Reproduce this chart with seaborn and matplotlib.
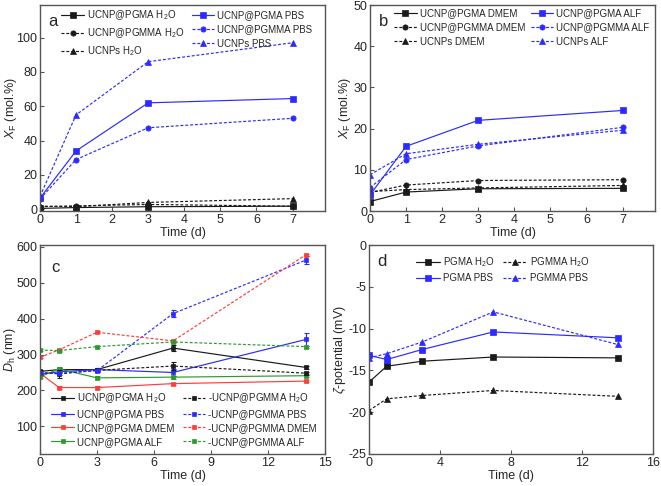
import numpy as np
import pandas as pd
import matplotlib
matplotlib.use("Agg")
import matplotlib.pyplot as plt
import seaborn as sns

# ---------------- data ----------------
days_ab = [0, 1, 3, 7]
a_pgma_h2o = [0.5, 1.0, 1.5, 1.8]
a_pgmma_h2o = [1.5, 2.0, 2.8, 1.8]
a_ucnp_h2o = [1.8, 1.5, 4.0, 6.2]
a_pgma_pbs = [6.5, 34.0, 62.0, 64.5]
a_pgmma_pbs = [6.0, 29.0, 47.5, 53.0]
a_ucnp_pbs = [7.5, 55.0, 86.0, 97.0]

b_pgma_dmem = [2.3, 4.6, 5.4, 5.5]
b_pgmma_dmem = [4.5, 6.3, 7.4, 7.6]
b_ucnp_dmem = [4.7, 5.2, 5.6, 6.2]
b_pgma_alf = [3.9, 15.7, 22.0, 24.4]
b_pgmma_alf = [5.7, 12.5, 15.8, 20.3]
b_ucnp_alf = [8.8, 13.9, 16.2, 19.6]

days_cd = [0, 1, 3, 7, 14]
c_pgma_h2o = [253, 258, 258, 318, 264]
c_pgma_h2o_err = [5, 4, 4, 8, 5]
c_pgmma_h2o = [250, 246, 256, 268, 248]
c_pgmma_h2o_err = [4, 10, 4, 12, 4]
c_pgma_pbs = [245, 252, 258, 250, 342]
c_pgma_pbs_err = [4, 4, 4, 10, 18]
c_pgmma_pbs = [248, 248, 255, 414, 563]
c_pgmma_pbs_err = [4, 4, 5, 10, 12]
c_pgma_dmem = [248, 208, 208, 219, 226]
c_pgma_dmem_err = [3, 3, 3, 3, 3]
c_pgmma_dmem = [292, 313, 362, 338, 578]
c_pgmma_dmem_err = [3, 3, 3, 3, 3]
c_pgma_alf = [238, 260, 235, 237, 241]
c_pgma_alf_err = [4, 5, 4, 4, 4]
c_pgmma_alf = [312, 311, 322, 335, 322]
c_pgmma_alf_err = [3, 3, 3, 3, 3]

d_pgma_h2o = [-16.4, -14.5, -13.9, -13.4, -13.5]
d_pgmma_h2o = [-19.8, -18.4, -18.0, -17.4, -18.1]
d_pgma_pbs = [-13.2, -13.7, -12.5, -10.4, -11.1]
d_pgmma_pbs = [-13.5, -13.0, -11.6, -8.0, -11.9]

# ---------------- style ----------------
sns.set_theme(style="ticks")
plt.rcParams['font.family'] = ['Liberation Sans', 'DejaVu Sans']
plt.rcParams['mathtext.fontset'] = 'custom'
plt.rcParams['mathtext.rm'] = 'Liberation Sans'
plt.rcParams['mathtext.it'] = 'Liberation Sans:italic'
plt.rcParams['mathtext.bf'] = 'Liberation Sans:bold'
plt.rcParams['axes.unicode_minus'] = False

BLACK = "#1a1a1a"
BLUE = "#2b2bff"
RED = "#ff3b3b"
GREEN = "#2e9a2e"
SPINE = "#555555"
DASH = (0, (2.5, 1.6))

TICK_FS = 9
LEG_FS = 7

fig = plt.figure(figsize=(6.61, 4.86), dpi=100)
W, H = 661, 486


def add_ax(l, t, r, b):
    return fig.add_axes([l / W, 1 - b / H, (r - l) / W, (b - t) / H])


ax_a = add_ax(40, 5, 325, 211)
ax_b = add_ax(370, 5, 655, 211)
ax_c = add_ax(40, 245, 325, 454)
ax_d = add_ax(369, 245, 653, 454)


def series(ax, x, y, color, marker, dashed, label, ms=3.8, lw=0.85):
    df = pd.DataFrame({"x": x, "y": y})
    sns.lineplot(data=df, x="x", y="y", ax=ax, color=color, marker=marker,
                 markersize=ms, markeredgecolor=color, markeredgewidth=0.5,
                 linewidth=lw, linestyle=DASH if dashed else "-", label=label,
                 errorbar=None, sort=False)


def style_ax(ax):
    for s in ax.spines.values():
        s.set_color(SPINE)
        s.set_linewidth(1.0)
    ax.tick_params(direction="in", length=3, width=0.8, color=SPINE,
                   labelsize=TICK_FS, pad=2, top=False, right=False)
    ax.set_xlabel("Time (d)", fontsize=TICK_FS, labelpad=1)


H2O = "H$_2$O"

# ---- panel a ----
series(ax_a, days_ab, a_pgma_h2o, BLACK, "s", False, f"UCNP@PGMA {H2O}")
series(ax_a, days_ab, a_pgmma_h2o, BLACK, "o", True, f"UCNP@PGMMA {H2O}")
series(ax_a, days_ab, a_ucnp_h2o, BLACK, "^", True, f"UCNPs {H2O}")
series(ax_a, days_ab, a_pgma_pbs, BLUE, "s", False, "UCNP@PGMA PBS")
series(ax_a, days_ab, a_pgmma_pbs, BLUE, "o", True, "UCNP@PGMMA PBS")
series(ax_a, days_ab, a_ucnp_pbs, BLUE, "^", True, "UCNPs PBS")
ax_a.set_xlim(0, 7.9)
ax_a.set_ylim(-1, 119)
ax_a.set_xticks(range(0, 8))
ax_a.set_yticks([0, 20, 40, 60, 80, 100])
ax_a.set_ylabel("$\\it{X}$$_\\mathrm{F}$ (mol.%)", fontsize=TICK_FS, labelpad=-2)
style_ax(ax_a)
ax_a.text(0.03, 0.955, "a", transform=ax_a.transAxes, fontsize=12, va="top")
ax_a.legend(loc="upper left", bbox_to_anchor=(0.075, 0.985), ncol=2, frameon=False,
            fontsize=LEG_FS, handlelength=2.3, handletextpad=0.3, columnspacing=0.8,
            labelspacing=0.45, borderpad=0, borderaxespad=0)

# ---- panel b ----
series(ax_b, days_ab, b_pgma_dmem, BLACK, "s", False, "UCNP@PGMA DMEM")
series(ax_b, days_ab, b_pgmma_dmem, BLACK, "o", True, "UCNP@PGMMA DMEM")
series(ax_b, days_ab, b_ucnp_dmem, BLACK, "^", True, "UCNPs DMEM")
series(ax_b, days_ab, b_pgma_alf, BLUE, "s", False, "UCNP@PGMA ALF")
series(ax_b, days_ab, b_pgmma_alf, BLUE, "o", True, "UCNP@PGMMA ALF")
series(ax_b, days_ab, b_ucnp_alf, BLUE, "^", True, "UCNPs ALF")
ax_b.set_xlim(0, 7.9)
ax_b.set_ylim(0, 50)
ax_b.set_xticks(range(0, 8))
ax_b.set_yticks([0, 10, 20, 30, 40, 50])
ax_b.set_ylabel("$\\it{X}$$_\\mathrm{F}$ (mol.%)", fontsize=TICK_FS, labelpad=0)
style_ax(ax_b)
ax_b.text(0.03, 0.955, "b", transform=ax_b.transAxes, fontsize=12, va="top")
ax_b.legend(loc="upper left", bbox_to_anchor=(0.085, 0.985), ncol=2, frameon=False,
            fontsize=LEG_FS, handlelength=2.3, handletextpad=0.3, columnspacing=0.6,
            labelspacing=0.45, borderpad=0, borderaxespad=0)

# ---- panel c ----
c_series = [
    (c_pgma_h2o, c_pgma_h2o_err, BLACK, False, f"UCNP@PGMA {H2O}"),
    (c_pgma_pbs, c_pgma_pbs_err, BLUE, False, "UCNP@PGMA PBS"),
    (c_pgma_dmem, c_pgma_dmem_err, RED, False, "UCNP@PGMA DMEM"),
    (c_pgma_alf, c_pgma_alf_err, GREEN, False, "UCNP@PGMA ALF"),
    (c_pgmma_h2o, c_pgmma_h2o_err, BLACK, True, f"-UCNP@PGMMA {H2O}"),
    (c_pgmma_pbs, c_pgmma_pbs_err, BLUE, True, "-UCNP@PGMMA PBS"),
    (c_pgmma_dmem, c_pgmma_dmem_err, RED, True, "-UCNP@PGMMA DMEM"),
    (c_pgmma_alf, c_pgmma_alf_err, GREEN, True, "-UCNP@PGMMA ALF"),
]
for y, e, col, dashed, lab in c_series:
    series(ax_c, days_cd, y, col, "s", dashed, lab, ms=2.5, lw=0.85)
    ax_c.errorbar(days_cd, y, yerr=e, fmt="none", ecolor=col, elinewidth=0.8,
                  capsize=1.8, capthick=0.8)
ax_c.set_xlim(0, 15)
ax_c.set_ylim(23, 605)
ax_c.set_xticks([0, 3, 6, 9, 12, 15])
ax_c.set_yticks([100, 200, 300, 400, 500, 600])
ax_c.set_ylabel("$\\it{D}$$_\\mathrm{h}$ (nm)", fontsize=TICK_FS, labelpad=-1)
style_ax(ax_c)
ax_c.text(0.04, 0.93, "c", transform=ax_c.transAxes, fontsize=12, va="top")
ax_c.legend(loc="lower left", bbox_to_anchor=(0.04, 0.035), ncol=2, frameon=False,
            fontsize=LEG_FS, handlelength=2.3, handletextpad=0.3, columnspacing=0.9,
            labelspacing=0.4, borderpad=0, borderaxespad=0)

# ---- panel d ----
series(ax_d, days_cd, d_pgma_h2o, BLACK, "s", False, f"PGMA {H2O}")
series(ax_d, days_cd, d_pgma_pbs, BLUE, "s", False, "PGMA PBS")
series(ax_d, days_cd, d_pgmma_h2o, BLACK, "^", True, f"PGMMA {H2O}")
series(ax_d, days_cd, d_pgmma_pbs, BLUE, "^", True, "PGMMA PBS")
ax_d.set_xlim(0, 16)
ax_d.set_ylim(-25, 0)
ax_d.set_xticks([0, 4, 8, 12, 16])
ax_d.set_yticks([-25, -20, -15, -10, -5, 0])
ax_d.set_ylabel("$\\it{\\zeta}$-potential (mV)", fontsize=TICK_FS, labelpad=0)
style_ax(ax_d)
ax_d.text(0.03, 0.955, "d", transform=ax_d.transAxes, fontsize=12, va="top")
ax_d.legend(loc="upper left", bbox_to_anchor=(0.165, 0.95), ncol=2, frameon=False,
            fontsize=LEG_FS, handlelength=2.5, handletextpad=0.3, columnspacing=0.8,
            labelspacing=0.4, borderpad=0, borderaxespad=0)

fig.savefig("out.png", dpi=100)
